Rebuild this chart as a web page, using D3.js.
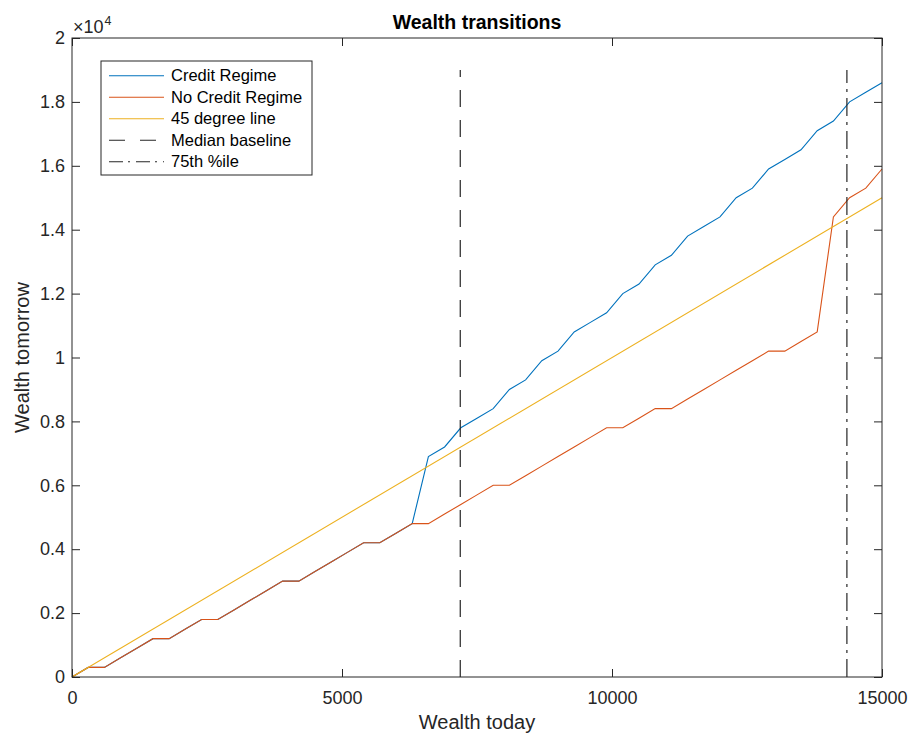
<!DOCTYPE html>
<html>
<head>
<meta charset="utf-8">
<script src="https://cdn.jsdelivr.net/npm/d3@7"></script>
<style>
  html, body { margin: 0; padding: 0; background: #fff; }
  svg { display: block; font-family: "Liberation Sans", Arial, Helvetica, sans-serif; }
</style>
</head>
<body>
<svg id="chart" width="911" height="738"></svg>
<script>
// Wealth today grid (x) and wealth tomorrow under each regime
const wealthToday = [
  0, 300, 600, 900, 1200, 1500, 1800, 2100, 2400, 2700,
  3000, 3300, 3600, 3900, 4200, 4500, 4800, 5100, 5400, 5700,
  6000, 6300, 6600, 6900, 7200, 7500, 7800, 8100, 8400, 8700,
  9000, 9300, 9600, 9900, 10200, 10500, 10800, 11100, 11400, 11700,
  12000, 12300, 12600, 12900, 13200, 13500, 13800, 14100, 14400, 14700, 15000
];
const creditRegime = [
  0, 300, 300, 600, 900, 1200, 1200, 1500, 1800, 1800,
  2100, 2400, 2700, 3000, 3000, 3300, 3600, 3900, 4200, 4200,
  4500, 4800, 6900, 7200, 7800, 8100, 8400, 9000, 9300, 9900,
  10200, 10800, 11100, 11400, 12000, 12300, 12900, 13200, 13800, 14100,
  14400, 15000, 15300, 15900, 16200, 16500, 17100, 17400, 18000, 18300, 18600
];
const noCreditRegime = [
  0, 300, 300, 600, 900, 1200, 1200, 1500, 1800, 1800,
  2100, 2400, 2700, 3000, 3000, 3300, 3600, 3900, 4200, 4200,
  4500, 4800, 4800, 5100, 5400, 5700, 6000, 6000, 6300, 6600,
  6900, 7200, 7500, 7800, 7800, 8100, 8400, 8400, 8700, 9000,
  9300, 9600, 9900, 10200, 10200, 10500, 10800, 14400, 15000, 15300, 15900
];
const diagonal = [0, 15000];
const medianBaseline = 7190;
const pct75 = 14350;
const refTop = 19000;

const xTicks = [0, 5000, 10000, 15000];
const yTicks = [0, 2000, 4000, 6000, 8000, 10000, 12000, 14000, 16000, 18000, 20000];

const legendLabels = ["Credit Regime", "No Credit Regime", "45 degree line", "Median baseline", "75th %ile"];
const colors = { credit: "#0072BD", noCredit: "#D95319", diag: "#EDB120", ref: "#262626" };

const svg = d3.select("#chart");
const axisColor = "#262626";
const mLeft = 72, mRight = 882, mTop = 38, mBottom = 677;

const x = d3.scaleLinear().domain([0, 15000]).range([mLeft, mRight]);
const y = d3.scaleLinear().domain([0, 20000]).range([mBottom, mTop]);

const line = d3.line().x(d => x(d[0])).y(d => y(d[1]));

const plot = svg.append("g");

// series
plot.append("path")
  .datum(wealthToday.map((w, i) => [w, creditRegime[i]]))
  .attr("d", line).attr("fill", "none")
  .attr("stroke", colors.credit).attr("stroke-width", 1.1);

plot.append("path")
  .datum(wealthToday.map((w, i) => [w, noCreditRegime[i]]))
  .attr("d", line).attr("fill", "none")
  .attr("stroke", colors.noCredit).attr("stroke-width", 1.1);

plot.append("path")
  .datum(diagonal.map(d => [d, d]))
  .attr("d", line).attr("fill", "none")
  .attr("stroke", colors.diag).attr("stroke-width", 1.1);

const dashMedian = "17,13";
const dashPct = "18,6,3,6";

plot.append("path")
  .datum([[medianBaseline, 0], [medianBaseline, refTop]])
  .attr("d", line).attr("fill", "none")
  .attr("stroke", colors.ref).attr("stroke-width", 1.2)
  .attr("stroke-dasharray", dashMedian);

plot.append("path")
  .datum([[pct75, 0], [pct75, refTop]])
  .attr("d", line).attr("fill", "none")
  .attr("stroke", colors.ref).attr("stroke-width", 1.2)
  .attr("stroke-dasharray", dashPct);

// axes (ticks pointing inward, mirrored on top/right)
function styleAxis(g) {
  g.selectAll(".domain").remove();
  g.selectAll(".tick line").attr("stroke", axisColor).attr("stroke-width", 1);
  g.selectAll(".tick text").attr("fill", axisColor).attr("font-size", 18);
}

svg.append("g").attr("transform", `translate(0,${mBottom})`)
  .call(d3.axisBottom(x).tickValues(xTicks).tickSizeInner(-8).tickSizeOuter(0).tickPadding(14)
    .tickFormat(d3.format("d")))
  .call(styleAxis);

svg.append("g").attr("transform", `translate(0,${mTop})`)
  .call(d3.axisTop(x).tickValues(xTicks).tickSizeInner(-8).tickSizeOuter(0).tickFormat(""))
  .call(styleAxis);

svg.append("g").attr("transform", `translate(${mLeft},0)`)
  .call(d3.axisLeft(y).tickValues(yTicks).tickSizeInner(-8).tickSizeOuter(0).tickPadding(7)
    .tickFormat(d => d3.format("~g")(d / 10000)))
  .call(styleAxis);

svg.append("g").attr("transform", `translate(${mRight},0)`)
  .call(d3.axisRight(y).tickValues(yTicks).tickSizeInner(-8).tickSizeOuter(0).tickFormat(""))
  .call(styleAxis);

// box
svg.append("rect")
  .attr("x", mLeft).attr("y", mTop)
  .attr("width", mRight - mLeft).attr("height", mBottom - mTop)
  .attr("fill", "none").attr("stroke", axisColor).attr("stroke-width", 1);

// exponent label
const expo = svg.append("text").attr("x", 73).attr("y", 33)
  .attr("fill", axisColor).attr("font-size", 18);
expo.append("tspan").text("×10");
expo.append("tspan").attr("font-size", 12.5).attr("dy", -8).attr("dx", 1).text("4");

// title and axis labels
svg.append("text").attr("x", 477).attr("y", 29).attr("text-anchor", "middle")
  .attr("font-size", 19.5).attr("font-weight", "bold").attr("fill", "#000")
  .text("Wealth transitions");

svg.append("text").attr("x", 477).attr("y", 729).attr("text-anchor", "middle")
  .attr("font-size", 20).attr("fill", axisColor).text("Wealth today");

svg.append("text")
  .attr("transform", `translate(29,${(mTop + mBottom) / 2}) rotate(-90)`)
  .attr("text-anchor", "middle")
  .attr("font-size", 20).attr("fill", axisColor).text("Wealth tomorrow");

// legend
const legend = svg.append("g");
legend.append("rect")
  .attr("x", 101).attr("y", 61).attr("width", 211).attr("height", 114)
  .attr("fill", "#fff").attr("stroke", axisColor).attr("stroke-width", 1);

const legendStyles = [
  { color: colors.credit, dash: null },
  { color: colors.noCredit, dash: null },
  { color: colors.diag, dash: null },
  { color: colors.ref, dash: "16,15" },
  { color: colors.ref, dash: "14,5,2,6" }
];

legendLabels.forEach((label, i) => {
  const cy = 75.7 + i * 21.5;
  legend.append("line")
    .attr("x1", 109).attr("x2", 164).attr("y1", cy).attr("y2", cy)
    .attr("stroke", legendStyles[i].color).attr("stroke-width", 1.1)
    .attr("stroke-dasharray", legendStyles[i].dash);
  legend.append("text")
    .attr("x", 171).attr("y", cy).attr("dy", "0.35em")
    .attr("font-size", 16.5).attr("fill", "#000").text(label);
});
</script>
</body>
</html>
